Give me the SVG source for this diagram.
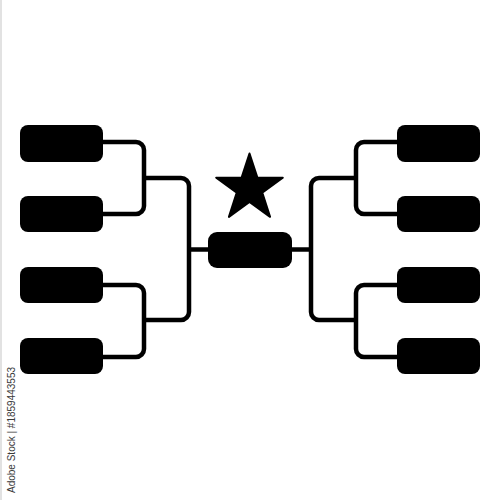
<svg xmlns="http://www.w3.org/2000/svg" width="500" height="500" viewBox="0 0 500 500">
  <style>
    .box { fill: #000; }
    .wire { fill: none; stroke: #000; stroke-width: 4.5; stroke-linejoin: round; }
    .credit { font-family: "Liberation Sans", Arial, sans-serif; font-size: 10px; fill: #3a3a3a; }
  </style>
  <rect x="0" y="0" width="500" height="500" fill="#fff"/>
  <line x1="1" y1="0" x2="1" y2="500" stroke="#e2e2e2" stroke-width="2"/>
  <g id="connectors">
    <path class="wire" d="M103,142 H136 A8,8 0 0 1 144,150 V206 A8,8 0 0 1 136,214 H103"/>
    <path class="wire" d="M103,285 H136 A8,8 0 0 1 144,293 V349 A8,8 0 0 1 136,357 H103"/>
    <path class="wire" d="M144,178 H181 A8,8 0 0 1 189,186 V312 A8,8 0 0 1 181,320 H144"/>
    <path class="wire" d="M189,249.5 H210"/>
    <path class="wire" d="M397,142 H364 A8,8 0 0 0 356,150 V206 A8,8 0 0 0 364,214 H397"/>
    <path class="wire" d="M397,285 H364 A8,8 0 0 0 356,293 V349 A8,8 0 0 0 364,357 H397"/>
    <path class="wire" d="M356,178 H319 A8,8 0 0 0 311,186 V312 A8,8 0 0 0 319,320 H356"/>
    <path class="wire" d="M311,249.5 H290"/>
  </g>
  <g id="left-1"><rect class="box" x="20" y="125" width="83" height="37" rx="8"/></g>
  <g id="left-2"><rect class="box" x="20" y="196" width="83" height="36" rx="8"/></g>
  <g id="left-3"><rect class="box" x="20" y="267" width="83" height="36" rx="8"/></g>
  <g id="left-4"><rect class="box" x="20" y="338" width="83" height="36" rx="8"/></g>
  <g id="right-1"><rect class="box" x="397" y="125" width="83" height="37" rx="8"/></g>
  <g id="right-2"><rect class="box" x="397" y="196" width="83" height="36" rx="8"/></g>
  <g id="right-3"><rect class="box" x="397" y="267" width="83" height="36" rx="8"/></g>
  <g id="right-4"><rect class="box" x="397" y="338" width="83" height="36" rx="8"/></g>
  <g id="final"><rect class="box" x="208" y="232" width="84" height="36" rx="9"/></g>
  <g id="star">
    <polygon points="249.5,153.5 257.38,177.66 282.79,177.68 262.24,192.64 270.07,216.82 249.5,201.9 228.93,216.82 236.76,192.64 216.21,177.68 241.62,177.66" fill="#000" stroke="#000" stroke-width="2" stroke-linejoin="round"/>
  </g>
  <text class="credit" transform="translate(15,493) rotate(-90)">Adobe Stock | #1859443553</text>
</svg>
